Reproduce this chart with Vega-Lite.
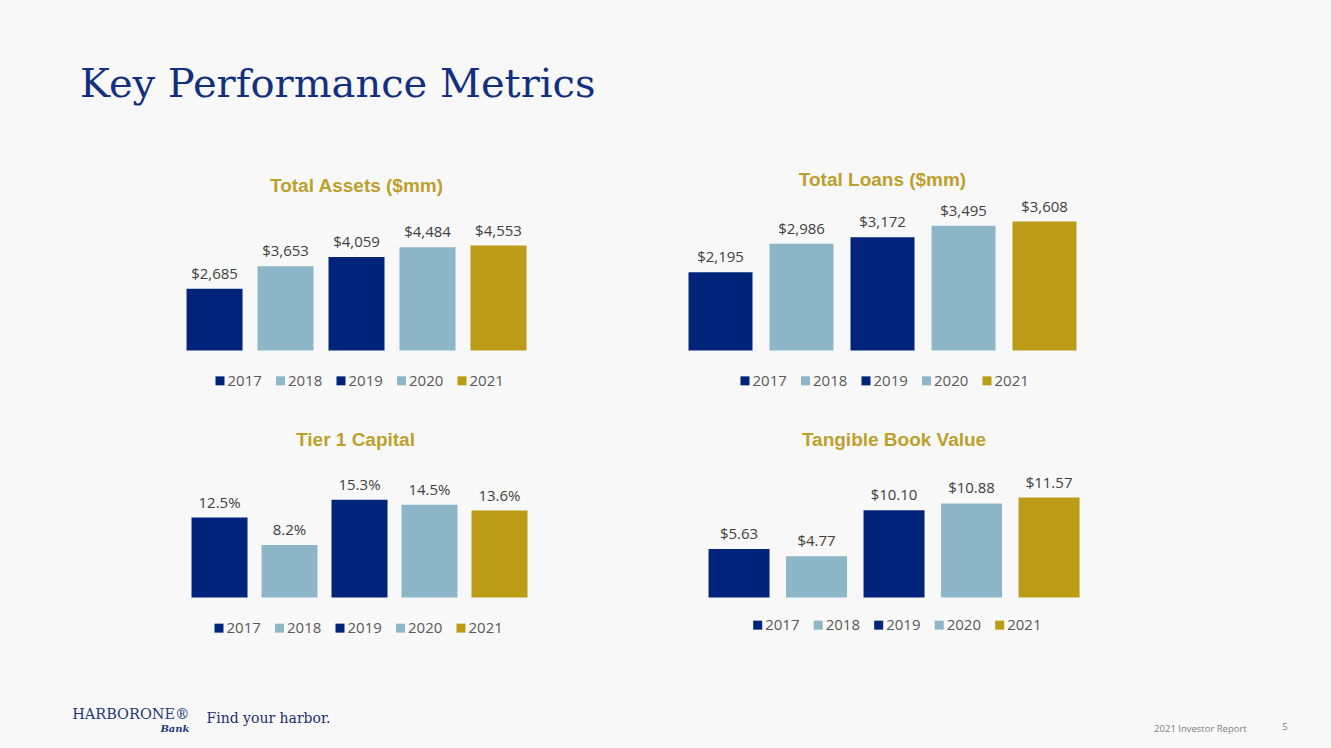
{
  "$schema": "https://vega.github.io/schema/vega-lite/v6.json",
  "background": "#F8F8F8",
  "padding": {"left": 72, "top": 64.6, "right": 44, "bottom": 15},
  "bounds": "flush",
  "title": {"text": "Key Performance Metrics", "anchor": "start", "font": "DejaVu Serif", "fontSize": 40, "fontWeight": "normal", "color": "#12307F", "dx": 8, "offset": 66},
  "datasets": {
    "assets": [
      {"year": "2017", "value": 2685},
      {"year": "2018", "value": 3653},
      {"year": "2019", "value": 4059},
      {"year": "2020", "value": 4484},
      {"year": "2021", "value": 4553}
    ],
    "loans": [
      {"year": "2017", "value": 2195},
      {"year": "2018", "value": 2986},
      {"year": "2019", "value": 3172},
      {"year": "2020", "value": 3495},
      {"year": "2021", "value": 3608}
    ],
    "tier1": [
      {"year": "2017", "value": 0.125},
      {"year": "2018", "value": 0.082},
      {"year": "2019", "value": 0.153},
      {"year": "2020", "value": 0.145},
      {"year": "2021", "value": 0.136}
    ],
    "tbv": [
      {"year": "2017", "value": 5.63},
      {"year": "2018", "value": 4.77},
      {"year": "2019", "value": 10.10},
      {"year": "2020", "value": 10.88},
      {"year": "2021", "value": 11.57}
    ]
  },
  "resolve": {"scale": {"x": "independent", "y": "independent", "color": "independent"}, "legend": {"color": "independent"}},
  "vconcat": [
    {
      "title": {"text": "HARBORONE®", "subtitle": "Bank", "orient": "bottom", "anchor": "start", "align": "right", "dx": 10.5, "dy": -29, "font": "DejaVu Serif", "fontSize": 14.5, "fontWeight": "normal", "color": "#1F3A7A", "subtitleFont": "DejaVu Serif", "subtitleFontStyle": "italic", "subtitleFontWeight": "bold", "subtitleFontSize": 10, "subtitleColor": "#1F3A7A", "subtitlePadding": 1},
      "bounds": "flush",
      "resolve": {"scale": {"x": "independent", "y": "independent", "color": "independent"}, "legend": {"color": "independent"}},
      "vconcat": [
        {
          "title": {"text": "Find your harbor.", "orient": "bottom", "anchor": "start", "dx": 27.5, "dy": -25, "font": "DejaVu Serif", "fontSize": 14, "fontWeight": "normal", "color": "#1F2F6E"},
          "bounds": "flush",
          "resolve": {"scale": {"x": "independent", "y": "independent", "color": "independent"}, "legend": {"color": "independent"}},
          "vconcat": [
            {
              "title": {"text": "2021 Investor Report", "orient": "bottom", "anchor": "end", "dx": -41, "dy": -12, "font": "Open Sans", "fontSize": 9.5, "fontWeight": "normal", "color": "#7F7F7F"},
              "spacing": 262,
              "bounds": "flush",
              "resolve": {"scale": {"x": "independent", "y": "independent", "color": "independent"}, "legend": {"color": "independent"}},
              "vconcat": [
                {
                  "hconcat": [
                    {
                      "data": {"name": "assets"},
                      "width": 355,
                      "height": 143,
                      "title": {"text": "Total Assets ($mm)", "font": "Liberation Sans", "fontSize": 19, "fontWeight": "bold", "color": "#BDA02C", "anchor": "middle", "offset": 12},
                      "encoding": {
                        "x": {"field": "year", "type": "nominal", "axis": null, "scale": {"paddingInner": 0.211, "paddingOuter": 0.106}},
                        "y": {"field": "value", "type": "quantitative", "axis": null, "scale": {"domain": [0, 6200]}}
                      },
                      "layer": [
                        {"mark": {"type": "bar"}, "encoding": {"color": {"field": "year", "type": "nominal", "scale": {"domain": ["2017", "2018", "2019", "2020", "2021"], "range": ["#00247A", "#8DB6C8", "#00247A", "#8DB6C8", "#BC9C16"]}, "legend": {"orient": "none", "legendX": 33.5, "legendY": 165.5, "direction": "horizontal", "title": null, "symbolType": "square", "symbolSize": 81, "symbolStrokeWidth": 0, "labelFont": "Open Sans", "labelFontSize": 15, "labelColor": "#595959", "columnPadding": 10.5, "labelOffset": 0}}}},
                        {"mark": {"type": "text", "dy": -10, "baseline": "alphabetic", "font": "Open Sans", "fontSize": 15, "color": "#404040"}, "encoding": {"text": {"field": "value", "type": "quantitative", "format": "$,.0f"}}}
                      ]
                    },
                    {
                      "data": {"name": "loans"},
                      "width": 405,
                      "height": 143,
                      "title": {"text": "Total Loans ($mm)", "font": "Liberation Sans", "fontSize": 19, "fontWeight": "bold", "color": "#BDA02C", "anchor": "middle", "offset": 10},
                      "encoding": {
                        "x": {"field": "year", "type": "nominal", "axis": null, "scale": {"paddingInner": 0.21, "paddingOuter": 0.105}},
                        "y": {"field": "value", "type": "quantitative", "axis": null, "scale": {"domain": [0, 4000]}}
                      },
                      "layer": [
                        {"mark": {"type": "bar"}, "encoding": {"color": {"field": "year", "type": "nominal", "scale": {"domain": ["2017", "2018", "2019", "2020", "2021"], "range": ["#00247A", "#8DB6C8", "#00247A", "#8DB6C8", "#BC9C16"]}, "legend": {"orient": "none", "legendX": 57.5, "legendY": 165.5, "direction": "horizontal", "title": null, "symbolType": "square", "symbolSize": 81, "symbolStrokeWidth": 0, "labelFont": "Open Sans", "labelFontSize": 15, "labelColor": "#595959", "columnPadding": 10.5, "labelOffset": 0}}}},
                        {"mark": {"type": "text", "dy": -10, "baseline": "alphabetic", "font": "Open Sans", "fontSize": 15, "color": "#404040"}, "encoding": {"text": {"field": "value", "type": "quantitative", "format": "$,.0f"}}}
                      ]
                    }
                  ],
                  "spacing": 146,
                  "bounds": "flush",
                  "resolve": {"scale": {"x": "independent", "y": "independent", "color": "independent"}, "legend": {"color": "independent"}}
                },
                {
                  "title": {"text": "5", "orient": "bottom", "anchor": "end", "dx": 200, "dy": 82, "font": "Open Sans", "fontSize": 9.5, "fontWeight": "normal", "color": "#7F7F7F"},
                  "hconcat": [
                    {
                      "data": {"name": "tier1"},
                      "width": 361,
                      "height": 128,
                      "title": {"text": "Tier 1 Capital", "font": "Liberation Sans", "fontSize": 19, "fontWeight": "bold", "color": "#BDA02C", "anchor": "middle", "offset": 20, "dx": -4},
                      "encoding": {
                        "x": {"field": "year", "type": "nominal", "axis": null, "scale": {"paddingInner": 0.2, "paddingOuter": 0.179}},
                        "y": {"field": "value", "type": "quantitative", "axis": null, "scale": {"domain": [0, 0.2]}}
                      },
                      "layer": [
                        {"mark": {"type": "bar"}, "encoding": {"color": {"field": "year", "type": "nominal", "scale": {"domain": ["2017", "2018", "2019", "2020", "2021"], "range": ["#00247A", "#8DB6C8", "#00247A", "#8DB6C8", "#BC9C16"]}, "legend": {"orient": "none", "legendX": 32.5, "legendY": 150.8, "direction": "horizontal", "title": null, "symbolType": "square", "symbolSize": 81, "symbolStrokeWidth": 0, "labelFont": "Open Sans", "labelFontSize": 15, "labelColor": "#595959", "columnPadding": 10.5, "labelOffset": 0}}}},
                        {"mark": {"type": "text", "dy": -10, "baseline": "alphabetic", "font": "Open Sans", "fontSize": 15, "color": "#404040"}, "encoding": {"text": {"field": "value", "type": "quantitative", "format": ".1%"}}}
                      ]
                    },
                    {
                      "data": {"name": "tbv"},
                      "width": 387.3,
                      "height": 128,
                      "title": {"text": "Tangible Book Value", "font": "Liberation Sans", "fontSize": 19, "fontWeight": "bold", "color": "#BDA02C", "anchor": "middle", "offset": 20},
                      "encoding": {
                        "x": {"field": "year", "type": "nominal", "axis": null, "scale": {"paddingInner": 0.213, "paddingOuter": 0.105}},
                        "y": {"field": "value", "type": "quantitative", "axis": null, "scale": {"domain": [0, 14.8]}}
                      },
                      "layer": [
                        {"mark": {"type": "bar"}, "encoding": {"color": {"field": "year", "type": "nominal", "scale": {"domain": ["2017", "2018", "2019", "2020", "2021"], "range": ["#00247A", "#8DB6C8", "#00247A", "#8DB6C8", "#BC9C16"]}, "legend": {"orient": "none", "legendX": 49.8, "legendY": 147.8, "direction": "horizontal", "title": null, "symbolType": "square", "symbolSize": 81, "symbolStrokeWidth": 0, "labelFont": "Open Sans", "labelFontSize": 15, "labelColor": "#595959", "columnPadding": 10.5, "labelOffset": 0}}}},
                        {"mark": {"type": "text", "dy": -10, "baseline": "alphabetic", "font": "Open Sans", "fontSize": 15, "color": "#404040"}, "encoding": {"text": {"field": "value", "type": "quantitative", "format": "$.2f"}}}
                      ]
                    }
                  ],
                  "spacing": 160.4,
                  "bounds": "flush",
                  "resolve": {"scale": {"x": "independent", "y": "independent", "color": "independent"}, "legend": {"color": "independent"}}
                }
              ]
            }
          ]
        }
      ]
    }
  ],
  "config": {"view": {"stroke": null}}
}
